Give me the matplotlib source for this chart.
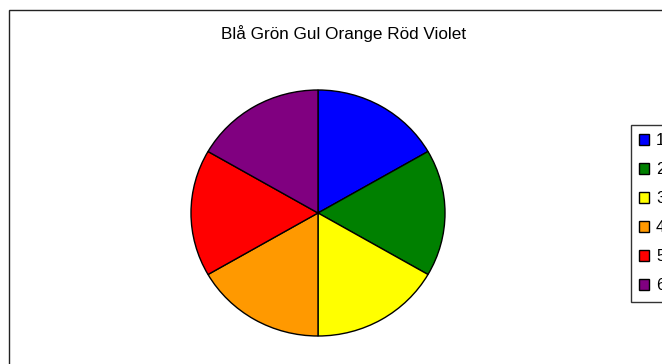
import matplotlib
matplotlib.use("Agg")
import matplotlib.pyplot as plt
from matplotlib.patches import Patch, Rectangle

plt.rcParams["font.family"] = ["Liberation Sans", "DejaVu Sans"]

TITLE = "Blå Grön Gul Orange Röd Violet"
LABELS = ["1", "2", "3", "4", "5", "6"]
VALUES = [1, 1, 1, 1, 1, 1]
COLORS = ["#0000FF", "#008000", "#FFFF00", "#FF9900", "#FF0000", "#800080"]

W, H = 662, 364
fig = plt.figure(figsize=(W / 100, H / 100), dpi=100)

# chart area border (runs off the right and bottom edge like the original crop)
fig.patches.append(Rectangle((9 / W, -0.05), 1.0, 1 - 10 / H + 0.05, transform=fig.transFigure,
                             fill=False, edgecolor="#222222", lw=1.0, clip_on=False))

# pie: centre ~ (318, 213) px, radius ~127 x 123 px
cx, cy, rx, ry = 318, 213, 127, 123
ax = fig.add_axes([(cx - rx) / W, 1 - (cy + ry) / H, 2 * rx / W, 2 * ry / H])
wedges, _ = ax.pie(VALUES, colors=COLORS, startangle=90, counterclock=False,
                   wedgeprops=dict(edgecolor="black", linewidth=1.0))
ax.set_aspect("auto")
ax.set_xlim(-1, 1)
ax.set_ylim(-1, 1)

fig.text(344 / W, 1 - 34 / H, TITLE, ha="center", va="center", fontsize=12.3)

# legend, also cut off at the right edge
handles = [Patch(facecolor=c, edgecolor="black", lw=1.0) for c in COLORS]
leg = fig.legend(handles, LABELS, loc="upper left", bbox_to_anchor=(631 / W, 1 - 125 / H),
                 frameon=True, fancybox=False, fontsize=12, handlelength=0.6, handleheight=0.6,
                 handletextpad=0.4, labelspacing=0.84, borderpad=0.5, borderaxespad=0)
leg.get_frame().set_edgecolor("black")
leg.get_frame().set_linewidth(1.0)

fig.savefig("out.png", dpi=100)
